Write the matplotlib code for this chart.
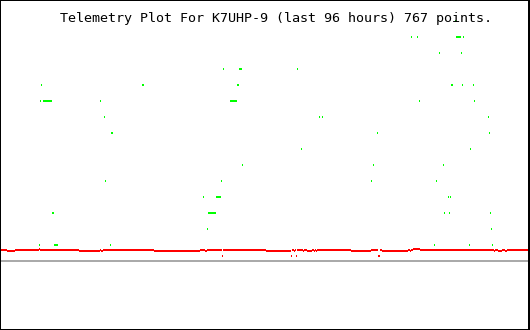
import matplotlib
matplotlib.use("Agg")
import matplotlib.pyplot as plt
import numpy as np

# ---- data -------------------------------------------------------------
title = "Telemetry Plot For K7UHP-9 (last 96 hours) 767 points."
hours_span = 96

# red channel: value held between successive change times (hours)
red_t = [0, 1.268, 2.717, 7.064, 7.245, 14.309, 18.113, 18.294, 18.657, 27.894,
         36.226, 37.132, 37.494, 40.211, 40.392, 48.181, 52.709, 52.891, 53.253,
         53.434, 53.615, 53.796, 54.883, 55.064, 55.608, 56.513, 56.875, 57.057,
         57.238, 57.419, 63.577, 67.200, 68.468, 68.830, 69.192, 73.902, 74.264,
         74.445, 74.808, 76.075, 89.479, 89.660, 90.204, 90.928, 91.472, 91.834,
         95.638]
A, B, C, L = 0.6875, 0.625, 0.75, 0.3125
red_v = [A, B, A, C, A, B, A, B, A, B, A, B, A, L, A, B, L, A, B, A, L, A, B,
         A, B, A, B, A, B, A, B, A, L, A, B, A, B, A, C, A, B, A, B, A, B, A]

# green channel samples (hours, level)
green_t = [82.51,
           74.54, 75.62, 82.69, 82.87, 83.05, 83.23, 83.41, 83.95,
           79.61, 83.59,
           40.48, 43.38, 43.56, 43.74, 53.89,
           7.52, 25.81, 25.99, 43.02, 43.20, 81.78, 81.96, 83.77, 85.77,
           7.34, 7.88, 8.06, 8.24, 8.42, 8.60, 8.79, 8.97, 9.15, 9.33, 18.20,
           41.75, 41.93, 42.11, 42.29, 42.48, 42.66, 42.84, 75.99, 85.95,
           18.93, 57.87, 58.42, 88.48,
           20.20, 20.38, 68.38, 88.66,
           54.61, 85.22,
           43.93, 67.65, 80.33,
           19.11, 40.12, 67.29, 79.06,
           36.86, 39.22, 39.40, 39.58, 39.76, 39.94, 81.24, 81.60,
           9.51, 9.69, 37.77, 37.95, 38.13, 38.31, 38.49, 38.67, 38.85, 39.03,
           80.51, 81.42, 88.85,
           37.59, 89.03,
           7.16, 9.87, 10.05, 10.23, 10.42, 20.02, 78.70, 85.04, 89.21]
green_v = ([15] + [14] * 8 + [13] * 2 + [12] * 5 + [11] * 9 + [10] * 20 +
           [9] * 4 + [8] * 4 + [7] * 2 + [6] * 3 + [5] * 4 + [4] * 8 +
           [3] * 13 + [2] * 2 + [1] * 9)

# ---- figure -----------------------------------------------------------
W, H, DPI = 530, 330, 100
px = 72.0 / DPI  # points per pixel
fig = plt.figure(figsize=(W / DPI, H / DPI), dpi=DPI, facecolor="white")
ax = fig.add_axes([0, 0, 1, 1])
ax.set_facecolor("white")
ax.set_xlim(0, hours_span)
ax.set_ylim(-4.3125, 16.3125)
ax.set_xticks([])
ax.set_yticks([])
for side, lw in (("left", 2), ("top", 2), ("bottom", 2), ("right", 4)):
    ax.spines[side].set_color("black")
    ax.spines[side].set_linewidth(lw * px)

ax.axhline(0, color="#aaaaaa", lw=2 * px, antialiased=False, zorder=1)
ax.hlines(red_v, red_t[:-1], red_t[1:], colors="#ff0000", lw=2 * px,
          antialiaseds=False, zorder=2)

# each green sample drawn as a one-sample-wide dash
gt = np.asarray(green_t, dtype=float)
half = 0.5 * hours_span / W
ax.hlines(green_v, gt - half, gt + half, colors="#00ff00", lw=2 * px,
          antialiaseds=False, zorder=4)

fig.text(60 / W, 1 - 22 / H, title, ha="left", va="baseline",
         family="DejaVu Sans Mono", fontsize=9.6, color="black", zorder=3)

fig.savefig("out.png", dpi=DPI, facecolor="white")
